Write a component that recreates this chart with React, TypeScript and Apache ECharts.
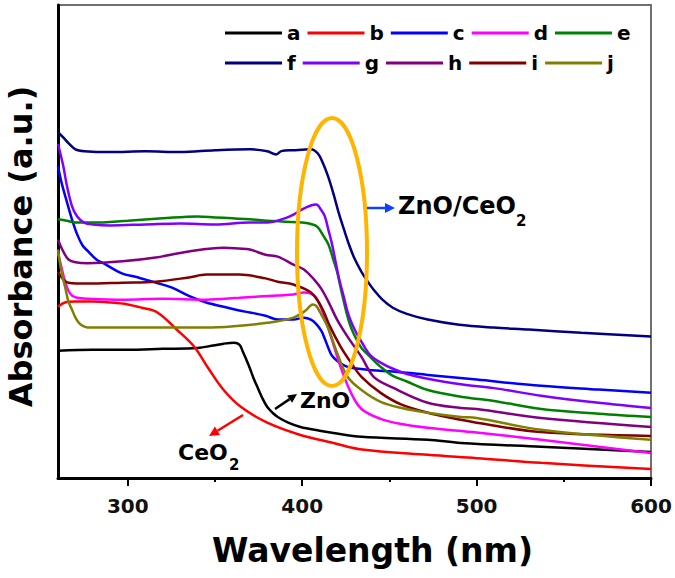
import { useEffect, useRef } from "react";
import * as echarts from "echarts";

const xMajorTicks = [300, 400, 500, 600];
const xMinorTicks = [350, 450, 550];
const seriesNames = ["a", "b", "c", "d", "e", "f", "g", "h", "i", "j"];
const seriesColors = ["#000000", "#ff0000", "#0000ff", "#ff00ff", "#008000", "#000080", "#8000ff", "#800080", "#800000", "#808000"];

const a = [[260,26.9],[280,27.1],[300,27.1],[320,27.3],[340,27.5],[349,28.0],[355,28.4],[361,28.6],[364,28.2],[366,26.7],[368,25.0],[370,23.2],[372,21.2],[374,19.5],[377,17.0],[380,15.0],[383,13.8],[386,12.9],[392,11.7],[399,10.8],[410,10.0],[418,9.5],[434,8.7],[472,8.1],[491,7.4],[537,6.6],[600,5.5]];
const b = [[260,36.2],[264,37.1],[270,37.3],[280,37.3],[290,37.1],[300,36.7],[308,36.0],[317,35.0],[328,31.4],[338,27.8],[346,23.3],[355,18.6],[365,15.0],[380,11.7],[399,9.1],[418,7.4],[433,6.1],[472,4.9],[500,4.2],[537,3.2],[600,1.9]];
const c = [[260,65.9],[262,62.5],[265,58.5],[268,54.7],[271,51.5],[274,49.2],[277,48.0],[282,46.2],[287,45.2],[297,43.2],[306,42.4],[316,41.3],[325,40.3],[335,38.5],[345,37.1],[355,36.2],[364,35.4],[370,35.0],[379,34.3],[386,33.5],[395,33.5],[401,33.9],[405,33.5],[408,32.6],[411,31.1],[413,29.4],[415,27.5],[417,25.9],[420,24.8],[424,23.8],[428,23.3],[440,22.8],[452,22.5],[472,21.8],[500,20.8],[537,19.5],[570,18.7],[600,18.0]];
const d = [[260,47.5],[262,44.5],[264,41.5],[266,39.6],[268,38.6],[271,38.1],[277,37.9],[297,37.7],[320,37.9],[345,37.7],[364,38.1],[386,38.6],[395,38.8],[401,39.2],[405,39.0],[408,38.1],[411,35.8],[416,30.5],[422,23.5],[428,18.0],[434,14.6],[445,12.5],[457,11.4],[472,10.6],[500,9.6],[537,8.1],[570,6.6],[600,5.3]];
const e = [[260,54.7],[265,54.4],[270,54.0],[280,54.0],[300,54.4],[320,54.9],[340,55.3],[350,55.1],[360,54.9],[370,54.7],[380,54.4],[390,54.2],[400,54.0],[406,53.6],[409,53.0],[412,51.3],[415,49.4],[418,46.0],[420,43.6],[422,40.3],[424,37.1],[426,34.1],[428,31.8],[431,29.4],[434,27.5],[439,25.6],[445,23.5],[452,21.6],[460,20.4],[472,18.6],[491,17.2],[510,16.3],[537,14.6],[570,13.6],[600,12.9]];
const f = [[260,73.1],[263,72.0],[266,70.8],[270,69.5],[275,69.1],[290,68.9],[310,69.1],[330,68.9],[350,69.3],[370,69.5],[380,69.1],[385,68.4],[388,69.1],[395,69.3],[405,69.5],[409,68.6],[412,66.5],[415,63.6],[418,60.0],[421,56.0],[424,52.5],[427,49.2],[430,46.4],[434,43.6],[438,41.3],[441,39.8],[446,37.7],[452,36.0],[460,34.7],[472,33.5],[490,32.4],[510,31.8],[530,31.4],[560,30.7],[600,29.9]];
const g = [[260,70.6],[263,66.0],[265,62.0],[268,57.5],[271,55.3],[275,54.0],[280,53.6],[290,53.4],[310,53.6],[330,53.8],[350,53.6],[370,54.0],[380,54.0],[390,54.9],[395,55.7],[400,56.8],[405,57.6],[408,57.8],[411,56.6],[413,55.3],[415,52.5],[417,49.6],[419,46.0],[421,42.4],[424,38.1],[426,35.2],[428,33.1],[431,30.7],[434,28.8],[439,26.0],[445,24.4],[452,23.1],[460,22.0],[472,21.0],[491,19.8],[510,19.0],[537,17.4],[570,15.9],[600,14.8]];
const h = [[260,50.4],[263,47.9],[266,46.2],[270,45.6],[277,45.4],[297,45.8],[316,46.6],[335,47.9],[355,48.7],[364,48.5],[370,48.3],[379,47.2],[386,46.8],[395,45.1],[401,44.1],[407,41.9],[411,40.0],[415,37.3],[420,33.5],[426,29.9],[434,25.6],[441,21.4],[452,19.1],[472,15.9],[491,14.8],[500,14.6],[537,12.7],[600,10.8]];
const i = [[260,43.6],[263,42.0],[266,41.3],[277,41.1],[297,41.3],[316,41.5],[335,42.4],[345,43.0],[364,43.0],[379,42.2],[386,41.5],[395,40.9],[405,39.2],[411,36.2],[416,32.0],[422,27.8],[428,24.4],[434,21.4],[445,18.0],[457,15.5],[472,13.8],[491,12.3],[500,11.7],[537,9.7],[600,8.9]];
const j = [[260,48.3],[262,43.6],[264,40.5],[266,37.3],[268,35.6],[270,33.9],[272,32.8],[274,32.2],[277,31.8],[297,31.8],[320,31.8],[345,31.8],[364,32.2],[380,32.8],[395,33.9],[402,35.4],[406,36.7],[408,36.4],[410,35.2],[415,31.6],[420,26.5],[426,21.4],[434,18.6],[445,16.1],[457,14.8],[472,13.8],[491,12.9],[500,12.7],[537,10.2],[600,8.1]];

const seriesData = [a, b, c, d, e, f, g, h, i, j];

const FONT = "DejaVu Sans";

export default function App() {
  const ref = useRef<HTMLDivElement>(null);
  useEffect(() => {
    if (!ref.current) return;
    const chart = echarts.init(ref.current, undefined, { renderer: "svg" });
    const legendText = { fontFamily: FONT, fontWeight: "bold", fontSize: 20, color: "#000", width: 14 };
    const legendCommon = {
      orient: "horizontal",
      left: 225,
      padding: 0,
      icon: "rect",
      itemWidth: 57,
      itemHeight: 3,
      itemGap: 7,
      textStyle: legendText,
      selectedMode: false,
    };
    const annoText = (text: string, x: number, y: number, size: number) => ({
      type: "text",
      x,
      y,
      style: { text, fontFamily: FONT, fontWeight: "bold", fontSize: size, fill: "#000", verticalAlign: "middle", align: "left" },
      z: 100,
    });
    chart.setOption({
      animation: false,
      backgroundColor: "#ffffff",
      grid: {
        left: 58,
        right: 24,
        top: 5,
        bottom: 100,
        show: true,
        borderColor: "#707070",
        borderWidth: 2,
        containLabel: false,
        outerBoundsMode: "none",
      },
      legend: [
        { ...legendCommon, top: 23, data: seriesNames.slice(0, 5) },
        { ...legendCommon, top: 53, data: seriesNames.slice(5) },
      ],
      xAxis: [
        {
          type: "value",
          min: 260,
          max: 600,
          name: "Wavelength (nm)",
          nameLocation: "middle",
          nameGap: 56,
          nameTextStyle: { fontFamily: FONT, fontWeight: "bold", fontSize: 33, color: "#000", padding: [0, 0, 0, 36] },
          axisLine: { show: true, lineStyle: { color: "#000", width: 3 } },
          axisTick: { show: true, inside: false, length: 8, lineStyle: { color: "#000", width: 2 }, customValues: xMajorTicks },
          axisLabel: { show: true, margin: 18, fontFamily: FONT, fontWeight: "bold", fontSize: 20, color: "#111", customValues: xMajorTicks },
          splitLine: { show: false },
        },
        {
          type: "value",
          min: 260,
          max: 600,
          position: "bottom",
          axisLine: { show: false },
          axisTick: { show: true, inside: false, length: 4, lineStyle: { color: "#000", width: 2 }, customValues: xMinorTicks },
          axisLabel: { show: false },
          splitLine: { show: false },
        },
      ],
      yAxis: {
        type: "value",
        min: 0,
        max: 100,
        name: "Absorbance (a.u.)",
        nameLocation: "middle",
        nameGap: 21,
        nameTextStyle: { fontFamily: FONT, fontWeight: "bold", fontSize: 32, color: "#000", padding: [0, 10, 0, 0] },
        axisLine: { show: true, lineStyle: { color: "#000", width: 3 } },
        axisTick: { show: false },
        axisLabel: { show: false },
        splitLine: { show: false },
      },
      series: seriesData.map((data, k) => ({
        name: seriesNames[k],
        type: "line",
        xAxisIndex: 0,
        data,
        showSymbol: false,
        symbol: "none",
        smooth: 0.35,
        color: seriesColors[k],
        lineStyle: { color: seriesColors[k], width: 2.5 },
      })),
      graphic: [
        {
          type: "ellipse",
          shape: { cx: 332, cy: 252, rx: 35, ry: 134 },
          style: { fill: "none", stroke: "#ffb400", lineWidth: 4 },
          z: 90,
        },
        { type: "line", shape: { x1: 367, y1: 208, x2: 386, y2: 208 }, style: { stroke: "#1040ff", lineWidth: 2.5 }, z: 100 },
        { type: "polygon", shape: { points: [[395, 208], [385, 203], [385, 213]] }, style: { fill: "#1040ff" }, z: 100 },
        annoText("ZnO/CeO", 398, 206, 24),
        annoText("2", 516, 221, 15),
        { type: "line", shape: { x1: 275, y1: 409, x2: 289.6, y2: 399.1 }, style: { stroke: "#000", lineWidth: 2.5 }, z: 100 },
        { type: "polygon", shape: { points: [[297, 394], [292.1, 402.8], [287.1, 395.4]] }, style: { fill: "#000" }, z: 100 },
        annoText("ZnO", 300, 400, 22),
        { type: "line", shape: { x1: 243, y1: 415, x2: 217.5, y2: 430.75 }, style: { stroke: "#ff0000", lineWidth: 2.5 }, z: 100 },
        { type: "polygon", shape: { points: [[209, 436], [220.1, 435.0], [214.9, 426.5]] }, style: { fill: "#ff0000" }, z: 100 },
        annoText("CeO", 178, 452, 22),
        annoText("2", 229, 465, 15),
      ],
    });
    return () => chart.dispose();
  }, []);
  return (
    <div
      ref={ref}
      style={{ position: "fixed", left: 0, top: 0, width: 675, height: 578, background: "#fff" }}
    />
  );
}
